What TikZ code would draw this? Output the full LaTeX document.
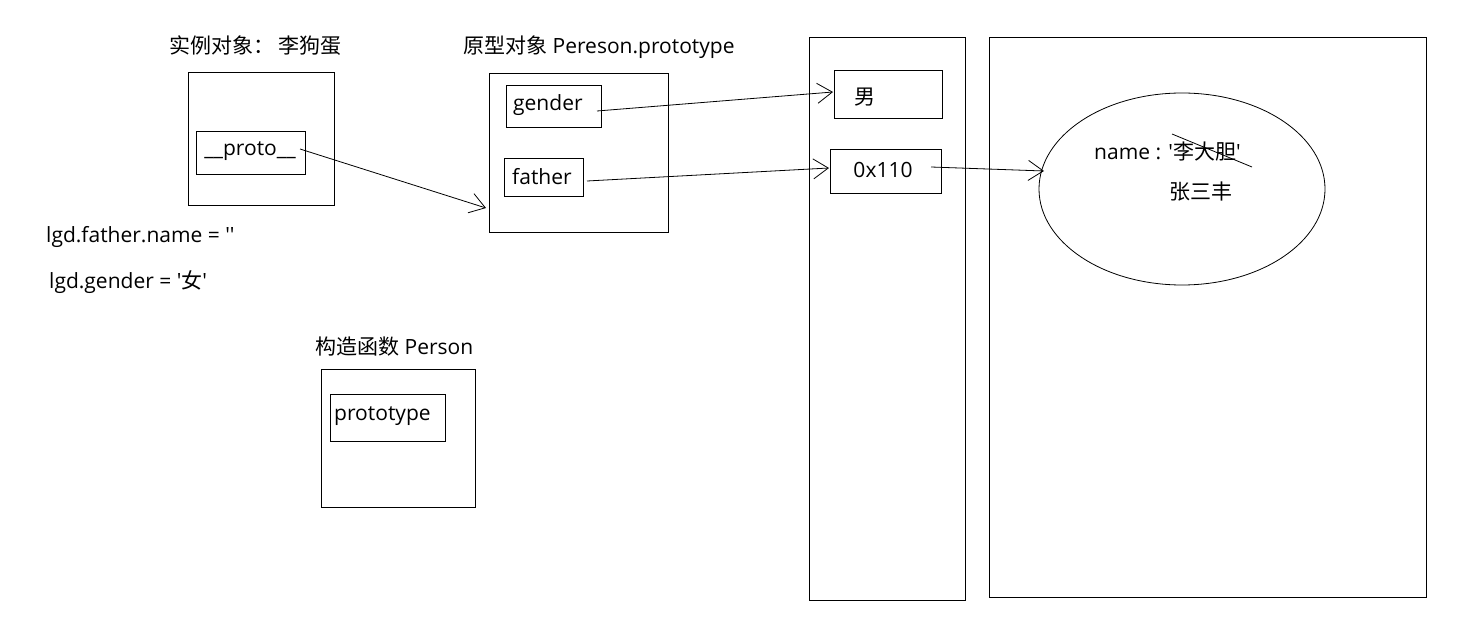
\documentclass[tikz,border=0pt]{standalone}
\usepackage{fontspec}
\setmainfont{Open Sans}
\newfontfamily\cjk{Noto Sans CJK SC}
\newcommand{\sq}{\textquotesingle}
\usetikzlibrary{arrows.meta,shapes.geometric}
\begin{document}
\begin{tikzpicture}[x=1pt,y=-1pt,
  box/.style={draw,line width=0.9pt},
  lbl/.style={inner sep=0pt,font=\fontsize{21}{23}\selectfont},
  arr/.style={line width=0.8pt,-{Straight Barb[length=15pt,width=20pt,line width=0.8pt]}},
  thin/.style={line width=0.8pt}]
\useasboundingbox (0,0) rectangle (1473,644);
% instance object
\node[lbl,anchor=west] (t1) at (169,46) {\cjk 实例对象：\ 李狗蛋};
\draw[box] (188,72) rectangle (334,205);
\draw[box] (196,131) rectangle (305,174);
\node[lbl] (proto) at (250,151) {\_\_proto\_\_};
\coordinate (protoS) at (300,149);
% prototype object
\node[lbl,anchor=west] (t2) at (463,47) {{\cjk 原型对象} Pereson.prototype};
\draw[box] (489,73) rectangle (668,232);
\coordinate (protoT) at (486,208);
\draw[box] (506,85) rectangle (601,127);
\node[lbl,anchor=west] (gender) at (513,105) {gender};
\coordinate (genderS) at (597,111);
\draw[box] (504,158) rectangle (583,196);
\node[lbl,anchor=west] (father) at (512,177) {father};
\coordinate (fatherS) at (587,181);
% texts
\node[lbl,anchor=west] (l1) at (46,237) {lgd.father.name = \sq\sq};
\node[lbl,anchor=west] (l2) at (49,282) {lgd.gender = \sq{\cjk 女}\sq};
% constructor
\node[lbl,anchor=west] (t3) at (315,347) {{\cjk 构造函数} Person};
\draw[box] (321,369) rectangle (475,507);
\draw[box] (330,394) rectangle (445,441);
\node[lbl,anchor=west] (pt) at (334,416) {prototype};
% column 1
\draw[box] (809,37) rectangle (965,600);
\draw[box] (834,70) rectangle (942,118);
\node[lbl] (nan) at (865,97) {\cjk 男};
\coordinate (nanT) at (833,92);
\draw[box] (830,149) rectangle (941,193);
\node[lbl] (addr) at (883,170) {0x110};
\coordinate (addrT) at (829,168);
\coordinate (addrS) at (931,167);
% column 2
\draw[box] (989,37) rectangle (1426,597);
\node[draw,thin,ellipse,minimum width=286pt,minimum height=192pt,inner sep=0pt] (ell) at (1182,189) {};
\coordinate (ellT) at (1044,171);
\node[lbl,anchor=west] (nm) at (1094,152) {name : \sq{\cjk 李大胆}\sq};
\coordinate (s1) at (1172,134);
\coordinate (s2) at (1252,167);
\draw[thin] (s1) -- (s2);
\node[lbl] (zs) at (1201,192) {\cjk 张三丰};
% arrows
\draw[arr] (protoS) -- (protoT);
\draw[arr] (genderS) -- (nanT);
\draw[arr] (fatherS) -- (addrT);
\draw[arr] (addrS) -- (ellT);
\end{tikzpicture}
\end{document}
